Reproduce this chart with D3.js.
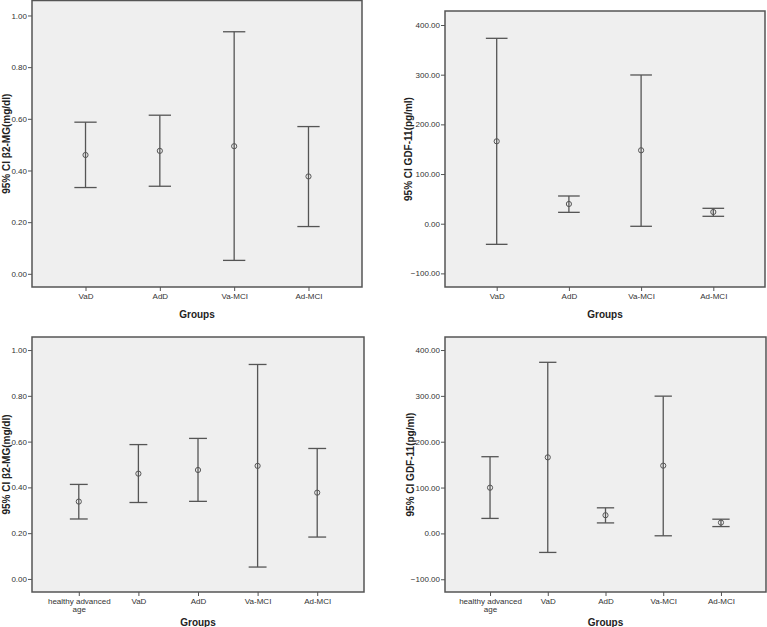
<!DOCTYPE html>
<html>
<head>
<meta charset="utf-8">
<script src="https://cdn.jsdelivr.net/npm/d3@7"></script>
<style>
  body { margin: 0; background: #fff; }
  svg { display: block; font-family: "Liberation Sans", Arial, sans-serif; }
  .tick text { fill: #333; font-size: 8px; }
  .tick line, .domain { stroke: #555; }
</style>
</head>
<body>
<div id="container"></div>
<script>
// groups
var groups4 = ["VaD", "AdD", "Va-MCI", "Ad-MCI"];
var groups5 = ["healthy advanced age", "VaD", "AdD", "Va-MCI", "Ad-MCI"];

// beta2-MG (mg/dl): lower CI, mean, upper CI
var b2mgLow  = { "healthy advanced age": 0.262, "VaD": 0.334, "AdD": 0.339, "Va-MCI": 0.052, "Ad-MCI": 0.183 };
var b2mgMean = { "healthy advanced age": 0.338, "VaD": 0.460, "AdD": 0.476, "Va-MCI": 0.494, "Ad-MCI": 0.377 };
var b2mgHigh = { "healthy advanced age": 0.413, "VaD": 0.587, "AdD": 0.614, "Va-MCI": 0.937, "Ad-MCI": 0.570 };

// GDF-11 (pg/ml): lower CI, mean, upper CI
var gdfLow  = { "healthy advanced age": 32.7, "VaD": -41.5, "AdD": 22.9, "Va-MCI": -5.2, "Ad-MCI": 14.9 };
var gdfMean = { "healthy advanced age": 99.7, "VaD": 165.9, "AdD": 39.7, "Va-MCI": 147.8, "Ad-MCI": 23.6 };
var gdfHigh = { "healthy advanced age": 167.3, "VaD": 373.2, "AdD": 55.8, "Va-MCI": 299.4, "Ad-MCI": 31.0 };

var b2mgTicks = [0, 0.2, 0.4, 0.6, 0.8, 1.0];
var gdfTicks = [-100, 0, 100, 200, 300, 400];

var svg = d3.select("#container").append("svg")
    .attr("width", 767)
    .attr("height", 627);

function panel(opt) {
    var g = svg.append("g");

    var x = d3.scalePoint()
        .domain(opt.groups)
        .range([opt.left, opt.right])
        .padding(opt.pad);

    var y = d3.scaleLinear()
        .domain(opt.domain)
        .range([opt.bottom, opt.top]);

    // plot area
    g.append("rect")
        .attr("x", opt.left)
        .attr("y", opt.top)
        .attr("width", opt.right - opt.left)
        .attr("height", opt.bottom - opt.top)
        .attr("fill", "#efefef")
        .attr("stroke", "#555")
        .attr("stroke-width", 1.5);

    g.append("g")
        .attr("transform", "translate(" + opt.left + ",0)")
        .call(d3.axisLeft(y).tickValues(opt.ticks).tickFormat(d3.format(".2f")).tickSize(4).tickPadding(1))
        .call(a => a.select(".domain").remove());

    g.append("g")
        .attr("transform", "translate(0," + opt.bottom + ")")
        .call(d3.axisBottom(x).tickSize(4).tickPadding(2))
        .call(a => a.select(".domain").remove())
        .selectAll(".tick text")
        .each(function (d) {
            var t = d3.select(this);
            if (d === "healthy advanced age") {
                t.text(null);
                t.append("tspan").attr("x", 0).attr("dy", "0.71em").text("healthy advanced");
                t.append("tspan").attr("x", 0).attr("dy", "1.0em").text("age");
            }
        });

    var cap = x.step() * 0.15;
    var bars = g.selectAll(".bar")
        .data(opt.groups)
        .enter().append("g")
        .attr("class", "bar")
        .attr("stroke", "#555")
        .attr("stroke-width", 1.3);

    bars.append("line")
        .attr("x1", d => x(d)).attr("x2", d => x(d))
        .attr("y1", d => y(opt.low[d])).attr("y2", d => y(opt.high[d]));
    bars.append("line")
        .attr("x1", d => x(d) - cap).attr("x2", d => x(d) + cap)
        .attr("y1", d => y(opt.high[d])).attr("y2", d => y(opt.high[d]));
    bars.append("line")
        .attr("x1", d => x(d) - cap).attr("x2", d => x(d) + cap)
        .attr("y1", d => y(opt.low[d])).attr("y2", d => y(opt.low[d]));
    bars.append("circle")
        .attr("cx", d => x(d))
        .attr("cy", d => y(opt.mean[d]))
        .attr("r", 2.6)
        .attr("fill", "none")
        .attr("stroke-width", 1);

    // axis titles
    g.append("text")
        .attr("transform", "translate(" + opt.titleX + "," + ((opt.top + opt.bottom) / 2) + ") rotate(-90)")
        .attr("text-anchor", "middle")
        .attr("dy", "0.35em")
        .attr("font-size", 10)
        .attr("font-weight", "bold")
        .attr("fill", "#222")
        .text(opt.title);

    g.append("text")
        .attr("x", (opt.left + opt.right) / 2)
        .attr("y", opt.groupsY)
        .attr("text-anchor", "middle")
        .attr("font-size", 10)
        .attr("font-weight", "bold")
        .attr("fill", "#222")
        .text("Groups");
}

panel({
    groups: groups4, low: b2mgLow, mean: b2mgMean, high: b2mgHigh,
    left: 32, right: 362, top: 0.5, bottom: 287, pad: 0.72,
    domain: [-0.051, 1.058], ticks: b2mgTicks,
    title: "95% CI \u03b22-MG(mg/dl)", titleX: 6, groupsY: 318
});

panel({
    groups: groups4, low: gdfLow, mean: gdfMean, high: gdfHigh,
    left: 445, right: 765, top: 11, bottom: 287, pad: 0.716,
    domain: [-127.4, 428.2], ticks: gdfTicks,
    title: "95% CI GDF-11(pg/ml)", titleX: 408, groupsY: 318
});

panel({
    groups: groups5, low: b2mgLow, mean: b2mgMean, high: b2mgHigh,
    left: 32, right: 364, top: 337, bottom: 592, pad: 0.785,
    domain: [-0.057, 1.057], ticks: b2mgTicks,
    title: "95% CI \u03b22-MG(mg/dl)", titleX: 6, groupsY: 626
});

panel({
    groups: groups5, low: gdfLow, mean: gdfMean, high: gdfHigh,
    left: 445, right: 766, top: 337, bottom: 592, pad: 0.78,
    domain: [-127.8, 428.4], ticks: gdfTicks,
    title: "95% CI GDF-11(pg/ml)", titleX: 410, groupsY: 626
});
</script>
</body>
</html>
